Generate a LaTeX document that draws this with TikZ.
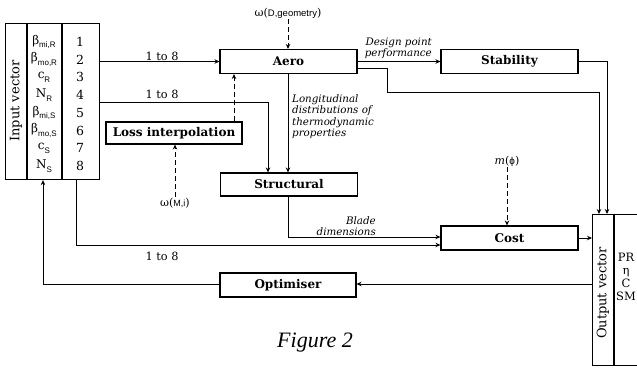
\documentclass[tikz,border=0pt]{standalone}
\usepackage{fontspec}
\setmainfont{DejaVu Serif}
\newfontfamily\arialf{Liberation Sans}
\newfontfamily\timesf{Liberation Serif}
\usetikzlibrary{arrows.meta}
\newcommand\mysub[1]{\raisebox{-0.3em}{\arialf\fontsize{8}{8}\selectfont #1}}
\begin{document}
\begin{tikzpicture}[x=1pt,y=-1pt,
  >={Stealth[length=5pt,width=4.5pt]},
  conn/.style={line width=0.9pt},
  dsh/.style={line width=0.9pt, dash pattern=on 5pt off 3pt},
  frame/.style={draw, line width=1.1pt},
  blk/.style={draw, line width=1.1pt, minimum width=137pt, minimum height=24pt, inner sep=0pt, font=\bfseries\fontsize{12}{14}\selectfont},
  num/.style={font=\fontsize{12.5}{14}\selectfont, inner sep=0pt},
  sym/.style={font=\fontsize{12}{14}\selectfont, inner sep=0pt},
  rng/.style={font=\fontsize{11.3}{13}\selectfont, inner sep=0pt},
  itl/.style={font=\itshape\fontsize{10.3}{11.4}\selectfont, inner sep=0pt},
  omg/.style={font=\fontsize{11}{13}\selectfont, inner sep=1pt},
]
\useasboundingbox (0,0) rectangle (637,370);
\clip (0,0) rectangle (637,370);

% ---------- input vector ----------
\node[frame, minimum width=94pt, minimum height=156pt, inner sep=0pt, anchor=north west] (inbox) at (5,23) {};
\coordinate (dv1) at (27,0);
\coordinate (dv2) at (62,0);
\draw[line width=1.1pt] (dv1 |- inbox.north) -- (dv1 |- inbox.south);
\draw[line width=1.1pt] (dv2 |- inbox.north) -- (dv2 |- inbox.south);
\node[rotate=90, font=\fontsize{13}{15}\selectfont, inner sep=0pt] (inlbl) at (16,101) {Input vector};

\node[sym] (s1) at (44,42)    {β\mysub{mi,R}};
\node[sym] (s2) at (44,59.7)  {β\mysub{mo,R}};
\node[sym] (s3) at (44,77.4)  {c\mysub{R}};
\node[sym] (s4) at (44,95.1)  {N\mysub{R}};
\node[sym] (s5) at (44,112.8) {β\mysub{mi,S}};
\node[sym] (s6) at (44,130.5) {β\mysub{mo,S}};
\node[sym] (s7) at (44,148.2) {c\mysub{S}};
\node[sym] (s8) at (44,165.9) {N\mysub{S}};

\node[num] (n1) at (80,42)    {1};
\node[num] (n2) at (80,59.7)  {2};
\node[num] (n3) at (80,77.4)  {3};
\node[num] (n4) at (80,95.1)  {4};
\node[num] (n5) at (80,112.8) {5};
\node[num] (n6) at (80,130.5) {6};
\node[num] (n7) at (80,148.2) {7};
\node[num] (n8) at (80,165.9) {8};

% ---------- blocks ----------
\node[blk] (aero)  at (288.5,61.5) {Aero};
\node[blk] (stab)  at (509.5,61.5) {Stability};
\node[blk, minimum width=136pt, minimum height=22pt] (loss) at (174,133) {Loss interpolation};
\node[blk, minimum height=23pt] (struct) at (289,184.5) {Structural};
\node[blk] (cost)  at (509.5,238) {Cost};
\node[blk, minimum width=136pt] (opt) at (288,285) {Optimiser};

% ---------- output vector ----------
\node[frame, minimum width=70pt, minimum height=151pt, inner sep=0pt, anchor=north west] (outbox) at (592,214) {};
\coordinate (dv3) at (614,0);
\draw[line width=1.1pt] (dv3 |- outbox.north) -- (dv3 |- outbox.south);
\node[rotate=90, font=\fontsize{13}{15}\selectfont, inner sep=0pt] (outlbl) at (603,293) {Output vector};
\node[font=\fontsize{11.5}{13}\selectfont, align=center, inner sep=0pt] (outvals) at (626,277) {PR\\η\\C\\SM};

% ---------- external inputs ----------
\node[omg] (wD) at (288,13) {ω({\arialf\fontsize{9.5}{11}\selectfont D,geometry})};
\node[omg] (wM) at (175,203) {ω({\arialf\fontsize{9}{11}\selectfont M,i})};
\node[omg] (mphi) at (507,161) {\textit{m}({\arialf\fontsize{10}{11}\selectfont ϕ})};

\draw[dsh,->] (wD.south) -- (aero.north -| wD.south);
\draw[dsh,->] (wM.north) -- (loss.south -| wM.north);
\draw[dsh,->] (mphi.south) -- (cost.north -| mphi.south);
\coordinate (dl) at (234,0);
\draw[dsh,->] (loss.north -| dl) -- (aero.south -| dl);

% ---------- connectors ----------
\draw[conn,->] (aero.west -| inbox.east) -- (aero.west);
\node[rng] (r1) at (162,56) {1 to 8};

\coordinate (c2) at (268,102);
\draw[conn,->] (inbox.east |- c2) -- (c2) -- (c2 |- struct.north);
\node[rng] (r2) at (162,94) {1 to 8};

\coordinate (ax) at (288,0);
\draw[conn,->] (ax |- aero.south) -- (ax |- struct.north);
\node[itl, align=left, anchor=north west] (longl) at (292,94.5) {Longitudinal\\distributions of\\thermodynamic\\properties};

\draw[conn,->] (aero.east |- stab.west) -- (stab.west);
\node[itl, align=right, anchor=east] (dpl) at (432,48.5) {Design point\\performance};

\coordinate (a1) at (387,68);
\coordinate (a2) at (599,92);
\draw[conn,->] (aero.east |- a1) -- (a1) -- (a1 |- a2) -- (a2) -- (a2 |- outbox.north);

\coordinate (s2c) at (607,0);
\draw[conn,->] (stab.east) -- (stab.east -| s2c) -- (s2c |- outbox.north);

\coordinate (b1) at (288,237);
\draw[conn,->] (b1 |- struct.south) -- (b1) -- (b1 -| cost.west);
\node[itl, align=right, anchor=east] (bdl) at (376,226) {Blade\\dimensions};

\coordinate (i1) at (76,245);
\draw[conn,->] (i1 |- inbox.south) -- (i1) -- (i1 -| cost.west);
\node[rng] (r3) at (162,256) {1 to 8};

\draw[conn,->] (cost.east) -- (cost.east -| outbox.west);

\coordinate (o1) at (43,284);
\draw[conn,->] (outbox.west |- o1) -- (opt.east |- o1);
\draw[conn,->] (opt.west |- o1) -- (o1) -- (o1 |- inbox.south);

% ---------- caption ----------
\node[font=\timesf\itshape\fontsize{22}{24}\selectfont, inner sep=0pt] (cap) at (315,343) {Figure 2};
\end{tikzpicture}
\end{document}
